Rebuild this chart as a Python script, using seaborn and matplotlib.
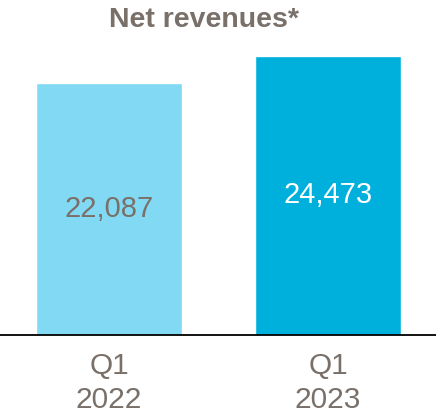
import matplotlib
matplotlib.use("Agg")
import matplotlib.pyplot as plt
import seaborn as sns
import pandas as pd

periods = ["Q1\n2022", "Q1\n2023"]
revenues = [22087, 24473]
bar_colors = ["#82d9f3", "#00b0dc"]
label_colors = ["#7a706a", "#ffffff"]
title = "Net revenues*"

sns.set_theme(style="white")
plt.rcParams["font.family"] = ["Liberation Sans", "DejaVu Sans"]

text_color = "#7a706a"

df = pd.DataFrame({"period": periods, "revenue": revenues})

fig = plt.figure(figsize=(4.36, 4.12), dpi=100)
ax = fig.add_axes([0.0, (412 - 335) / 412, 1.0, 279 / 412])

sns.barplot(data=df, x="period", y="revenue", hue="period",
            palette=bar_colors, width=0.667, saturation=1,
            legend=False, ax=ax)

ax.set_xlim(-0.498, 1.493)
ax.set_ylim(0, max(revenues))

for i, (v, c) in enumerate(zip(revenues, label_colors)):
    ax.text(i, v / 2, f"{v:,}", ha="center", va="center",
            fontsize=21, color=c)

for s in ["top", "left", "right"]:
    ax.spines[s].set_visible(False)
ax.spines["bottom"].set_color("black")
ax.spines["bottom"].set_linewidth(1.3)
ax.spines["bottom"].set_zorder(5)

ax.set_yticks([])
ax.set_xlabel("")
ax.set_ylabel("")
ax.tick_params(axis="x", length=0, pad=12, labelsize=21.5, labelcolor=text_color)
for lbl in ax.get_xticklabels():
    lbl.set_linespacing(1.3)

fig.text(204 / 436, 1 - 20 / 412, title, ha="center", va="center",
         fontsize=20.5, fontweight="bold", color=text_color)

fig.savefig("out.png", dpi=100, facecolor="white")
